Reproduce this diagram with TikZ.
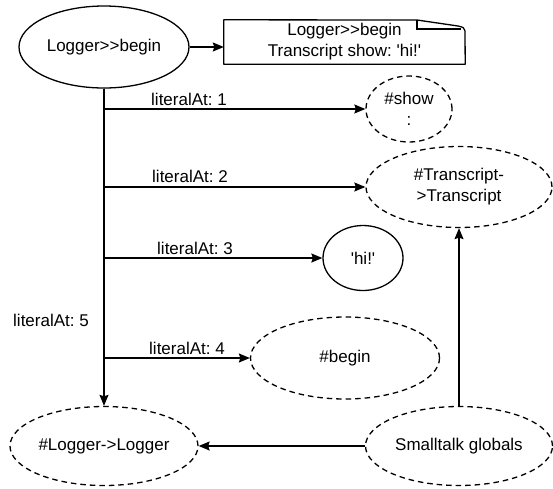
\documentclass[tikz,border=0pt]{standalone}
\usepackage{fontspec}
\setmainfont{Liberation Sans}
\usetikzlibrary{arrows.meta,shapes.geometric}
\begin{document}
\frenchspacing
\begin{tikzpicture}[x=1pt,y=-1pt,
  every node/.style={font=\fontsize{17}{21}\selectfont, align=center, inner sep=0pt},
  el/.style={ellipse, draw, line width=1.3pt},
  dl/.style={el, dash pattern=on 5.5pt off 4pt},
  arr/.style={line width=1.3pt, -{Stealth[length=11pt,width=9pt,inset=1.5pt]}},
  lbl/.style={anchor=south, inner sep=1pt}]
\useasboundingbox (0,0) rectangle (553,488);
\node[el, minimum width=170pt, minimum height=82pt] (lb) at (104,47) {Logger>{}>begin};
\node[minimum width=241pt, minimum height=44pt] (note) at (344.5,42) {Logger>{}>begin\\Transcript show: \textquotesingle hi!\textquotesingle};
\draw[line width=1.3pt, line join=round] (note.north west) -- (417,20) -- (458,26) .. controls (463,27) and (465,28) .. (465,31) -- (note.south east) -- (note.south west) -- cycle;
\draw[line width=1.3pt] (417,20) -- (417,29) -- (461,29);
\node[dl, minimum width=86pt, minimum height=66pt] (show) at (409,109) {\#show\\:};
\node[dl, minimum width=186pt, minimum height=81pt] (tr) at (459,187) {\#Transcript-\\>Transcript};
\node[el, minimum width=80pt, minimum height=65pt] (hi) at (363,258) {\textquotesingle hi!\textquotesingle};
\node[dl, minimum width=189pt, minimum height=82pt] (bg) at (345,358) {\#begin};
\node[dl, minimum width=188pt, minimum height=79pt] (ll) at (104,446) {\#Logger->Logger};
\node[dl, minimum width=187pt, minimum height=79pt] (sg) at (459,446) {Smalltalk globals};
\draw[arr] (lb.east) -- (lb.east -| note.west);
\draw[arr] (lb.south) |- (show.west);
\draw[arr] (lb.south) |- (tr.west);
\draw[arr] (lb.south) |- (hi.west);
\draw[arr] (lb.south) |- (bg.west);
\draw[arr] (lb.south) -- (ll.north);
\node[lbl] (l1) at (189,107) {literalAt: 1};
\node[lbl] (l2) at (190,184) {literalAt: 2};
\node[lbl] (l3) at (195,256) {literalAt: 3};
\node[lbl] (l4) at (187,356) {literalAt: 4};
\node (l5) at (51,320) {literalAt: 5};
\draw[arr] (sg.west) -- (ll.east);
\draw[arr] (sg.north) -- (tr.south);
\end{tikzpicture}
\end{document}
